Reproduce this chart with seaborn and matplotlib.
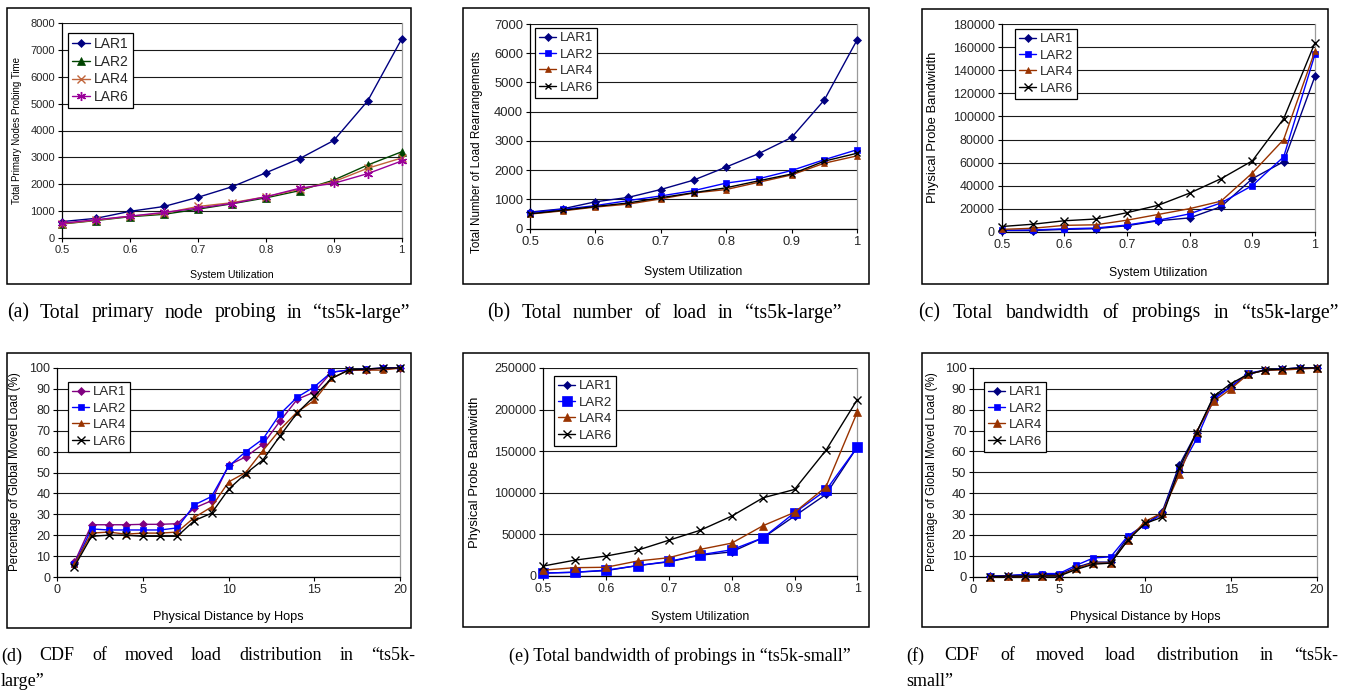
import numpy as np
import pandas as pd
import matplotlib
matplotlib.use("Agg")
import matplotlib.pyplot as plt
import seaborn as sns
from matplotlib.patches import Rectangle

# ---------------- data ----------------
series = ["LAR1", "LAR2", "LAR4", "LAR6"]
util = [0.5, 0.55, 0.6, 0.65, 0.7, 0.75, 0.8, 0.85, 0.9, 0.95, 1.0]
hops = list(range(1, 21))

# (a) Total primary nodes probing time, ts5k-large
a_lar1 = [620, 740, 1000, 1180, 1520, 1910, 2430, 2960, 3630, 5100, 7400]
a_lar2 = [530, 660, 800, 890, 1080, 1280, 1500, 1770, 2160, 2720, 3210]
a_lar4 = [540, 670, 820, 930, 1180, 1320, 1540, 1820, 2100, 2600, 2980]
a_lar6 = [560, 690, 820, 960, 1120, 1290, 1540, 1860, 2040, 2400, 2870]

# (b) Total number of load rearrangements, ts5k-large
b_lar1 = [570, 680, 920, 1070, 1340, 1660, 2110, 2570, 3120, 4400, 6450]
b_lar2 = [550, 660, 790, 960, 1120, 1300, 1560, 1710, 1990, 2360, 2700]
b_lar4 = [500, 610, 740, 840, 1020, 1220, 1340, 1590, 1840, 2240, 2490]
b_lar6 = [510, 630, 760, 880, 1060, 1230, 1400, 1640, 1870, 2310, 2580]

# (c) Physical probe bandwidth, ts5k-large
c_lar1 = [1000, 1000, 2000, 2600, 5200, 9500, 12000, 21700, 46000, 60800, 135000]
c_lar2 = [1200, 1500, 2500, 3200, 5800, 10000, 15500, 25000, 40000, 65000, 154000]
c_lar4 = [2000, 3000, 5500, 6000, 10000, 15000, 20000, 26500, 51000, 80000, 157000]
c_lar6 = [4500, 6500, 9500, 11000, 16500, 23000, 33500, 46000, 61500, 98000, 164000]

# (d) CDF of moved load, ts5k-large
d_lar1 = [7, 25, 25, 25, 25.2, 25.2, 25.5, 33, 36.5, 53.5, 57.5, 63.5, 74.6, 85, 88.5, 98, 99, 99, 100, 100]
d_lar2 = [6, 23, 22.5, 22.5, 22.5, 22.5, 23.5, 34.5, 38.5, 53, 60, 66, 78, 86, 91, 98, 99, 99.5, 100, 100]
d_lar4 = [6, 21, 21.5, 20.5, 21, 21, 21.5, 28.5, 33.5, 45.5, 50, 60.5, 70.5, 79, 84.5, 95, 99, 99, 99, 100]
d_lar6 = [5, 19.5, 20, 20, 19.5, 19.5, 19.5, 27, 30.5, 42, 49.5, 56, 67.5, 78.5, 86.5, 95, 99, 99.5, 100, 100]

# (e) Physical probe bandwidth, ts5k-small
e_lar1 = [3500, 4500, 6500, 12500, 17000, 25000, 29000, 46000, 72000, 98000, 155000]
e_lar2 = [3500, 4500, 7000, 12500, 17500, 25500, 31500, 46000, 76000, 103000, 155000]
e_lar4 = [7000, 10000, 10500, 18000, 22000, 32000, 39500, 60500, 76500, 107000, 197000]
e_lar6 = [12000, 19000, 24000, 31000, 43000, 55000, 72000, 94000, 104000, 151000, 212000]

# (f) CDF of moved load, ts5k-small
f_lar1 = [0.3, 0.5, 1, 1, 1, 4.5, 7, 7, 19, 25, 31, 53.5, 69, 86, 91, 97, 99, 99.5, 100, 100]
f_lar2 = [0.3, 0.5, 1, 1.5, 1.5, 5.5, 9, 9.5, 19.5, 25, 30, 51, 66, 85, 91, 97.5, 99, 99.5, 100, 100]
f_lar4 = [0, 0.2, 0, 0.5, 0.5, 4, 6.5, 6.5, 17.5, 26.5, 30.5, 49, 69.5, 84, 90, 97, 99, 99, 99.5, 100]
f_lar6 = [0, 0.3, 0.3, 0.3, 0.3, 3.5, 6, 6.5, 17.5, 25.5, 28.5, 52, 69, 86.5, 92.5, 97, 99, 99.5, 100, 100]

captions = [
    "(a) Total primary node probing in \u201cts5k-large\u201d",
    "(b) Total number of load in \u201cts5k-large\u201d",
    "(c) Total bandwidth of probings in \u201cts5k-large\u201d",
    "(d) CDF of moved load distribution in \u201cts5k-large\u201d",
    "(e) Total bandwidth of probings in \u201cts5k-small\u201d",
    "(f) CDF of moved load distribution in \u201cts5k-small\u201d",
]

# ---------------- style ----------------
sns.set_theme(style="white")
plt.rcParams["font.family"] = ["Liberation Sans", "DejaVu Sans"]

W, H = 1346, 694
fig = plt.figure(figsize=(W / 100, H / 100), dpi=100)

NAVY, GREEN, ORANGE, PURPLE = "#000080", "#004400", "#C0643A", "#990099"
BLUE, BROWN, BLACK, MAG = "#0000FF", "#993300", "#000000", "#800080"
STAR = (6, 2, 0)

def ax_rect(x0, x1, y0, y1):
    return [x0 / W, 1 - y1 / H, (x1 - x0) / W, (y1 - y0) / H]

panels = [
    dict(rect=ax_rect(62, 401.7, 22.7, 238.3), x=util, ys=[a_lar1, a_lar2, a_lar4, a_lar6],
         colors=[NAVY, GREEN, ORANGE, PURPLE], markers=["D", "^", "x", STAR], ms=[4.5, 5.5, 6, 6.5],
         yticks=np.arange(0, 8001, 1000), xticks=[0.5, 0.6, 0.7, 0.8, 0.9, 1.0], xlim=(0.5, 1.0),
         ylabel="Total Primary Nodes Probing Time", ylfs=7.0, ylx=17, yly=130, xlabel="System Utilization",
         xlfs=7.6, xly=275, tfs=8.0, leg=(68, 33), lfs=10, lsp=0.26, frame=(7, 411, 8, 284)),
    dict(rect=ax_rect(530, 857, 24, 228.7), x=util, ys=[b_lar1, b_lar2, b_lar4, b_lar6],
         colors=[NAVY, BLUE, BROWN, BLACK], markers=["D", "s", "^", "x"], ms=[4.5, 4.5, 4, 4],
         yticks=np.arange(0, 7001, 1000), xticks=[0.5, 0.6, 0.7, 0.8, 0.9, 1.0], xlim=(0.5, 1.0),
         ylabel="Total Number of Load Rearrangements", ylfs=8.4, ylx=477, yly=152, xlabel="System Utilization",
         xlfs=8.8, xly=272, tfs=9.4, leg=(535, 28), lfs=9.5, lsp=0.32, frame=(463, 869, 8, 284)),
    dict(rect=ax_rect(1001.7, 1315, 24.3, 231.7), x=util, ys=[c_lar1, c_lar2, c_lar4, c_lar6],
         colors=[NAVY, BLUE, BROWN, BLACK], markers=["D", "s", "^", "x"], ms=[4.5, 4.5, 5, 6],
         yticks=np.arange(0, 180001, 20000), xticks=[0.5, 0.6, 0.7, 0.8, 0.9, 1.0], xlim=(0.5, 1.0),
         ylabel="Physical Probe Bandwidth", ylfs=9.4, ylx=933, yly=127, xlabel="System Utilization",
         xlfs=8.8, xly=273, tfs=9.0, leg=(1015, 29), lfs=9.5, lsp=0.32, frame=(922, 1328, 9, 284)),
    dict(rect=ax_rect(57.3, 400, 368, 577), x=hops, ys=[d_lar1, d_lar2, d_lar4, d_lar6],
         colors=[MAG, BLUE, BROWN, BLACK], markers=["D", "s", "^", "x"], ms=[4.5, 4.5, 5, 6],
         yticks=np.arange(0, 101, 10), xticks=[0, 5, 10, 15, 20], xlim=(0, 20),
         ylabel="Percentage of Global Moved Load (%)", ylfs=8.4, ylx=15, yly=472, xlabel="Physical Distance by Hops",
         xlfs=9.2, xly=617, tfs=9.0, leg=(68, 382), lfs=9.5, lsp=0.32, frame=(7, 411, 353, 628)),
    dict(rect=ax_rect(543.3, 857.3, 368, 576), x=util, ys=[e_lar1, e_lar2, e_lar4, e_lar6],
         colors=[NAVY, BLUE, BROWN, BLACK], markers=["D", "s", "^", "x"], ms=[4.5, 6.5, 6, 6],
         yticks=np.arange(0, 250001, 50000), xticks=[0.5, 0.6, 0.7, 0.8, 0.9, 1.0], xlim=(0.5, 1.0),
         ylabel="Physical Probe Bandwidth", ylfs=9.4, ylx=475, yly=472, xlabel="System Utilization",
         xlfs=8.8, xly=617, tfs=9.0, leg=(554, 376), lfs=9.5, lsp=0.32, frame=(463, 869, 353, 627)),
    dict(rect=ax_rect(973.3, 1316.7, 368, 576.7), x=hops, ys=[f_lar1, f_lar2, f_lar4, f_lar6],
         colors=[NAVY, BLUE, BROWN, BLACK], markers=["D", "s", "^", "x"], ms=[4.5, 5, 6, 6],
         yticks=np.arange(0, 101, 10), xticks=[0, 5, 10, 15, 20], xlim=(0, 20),
         ylabel="Percentage of Global Moved Load (%)", ylfs=8.4, ylx=932, yly=472, xlabel="Physical Distance by Hops",
         xlfs=9.2, xly=617, tfs=9.4, leg=(984, 382), lfs=9.5, lsp=0.32, frame=(922, 1328, 353, 627)),
]

for p in panels:
    ax = fig.add_axes(p["rect"])
    for name, yv, c, m, ms in zip(series, p["ys"], p["colors"], p["markers"], p["ms"]):
        df = pd.DataFrame({"x": p["x"], "y": yv})
        sns.lineplot(data=df, x="x", y="y", ax=ax, color=c, marker=m, markersize=ms,
                     markeredgecolor=c, markerfacecolor=c,
                     markeredgewidth=1.0 if m in ("x", STAR) else 0.5,
                     linewidth=1.0, label=name, clip_on=False, zorder=3, estimator=None)
    ax.set_xlim(*p["xlim"])
    ax.set_ylim(p["yticks"][0], p["yticks"][-1])
    ax.set_yticks(p["yticks"])
    ax.set_xticks(p["xticks"])
    ax.set_xticklabels([f"{v:g}" for v in p["xticks"]])
    ax.set_yticklabels([f"{int(v)}" for v in p["yticks"]])
    ax.yaxis.grid(True, color="#1a1a1a", linewidth=0.8)
    ax.xaxis.grid(False)
    ax.set_axisbelow(True)
    for s in ("left", "bottom"):
        ax.spines[s].set_color("black")
        ax.spines[s].set_linewidth(0.9)
    ax.spines["top"].set_visible(False)
    ax.spines["right"].set_color("#9a9a9a")
    ax.spines["right"].set_linewidth(0.9)
    ax.tick_params(axis="both", which="major", direction="out", length=3, width=0.8,
                   color="black", labelsize=p["tfs"], pad=2, left=True, bottom=True)
    ax.set_xlabel("")
    ax.set_ylabel("")
    fig.text(p["ylx"] / W, 1 - p["yly"] / H, p["ylabel"], rotation=90, ha="center", va="center",
             fontsize=p["ylfs"], color="black")
    cx = p["rect"][0] + p["rect"][2] / 2
    fig.text(cx, 1 - p["xly"] / H, p["xlabel"], ha="center", va="center",
             fontsize=p["xlfs"], color="black")
    ax.legend(loc="upper left", bbox_to_anchor=(p["leg"][0] / W, 1 - p["leg"][1] / H),
              bbox_transform=fig.transFigure, frameon=True, fancybox=False, framealpha=1,
              edgecolor="black", borderpad=0.3, labelspacing=p["lsp"], handlelength=1.3,
              handletextpad=0.25, borderaxespad=0, fontsize=p["lfs"])
    ax.get_legend().get_frame().set_linewidth(0.9)
    fx0, fx1, fy0, fy1 = p["frame"]
    fig.patches.append(Rectangle((fx0 / W, 1 - fy1 / H), (fx1 - fx0) / W, (fy1 - fy0) / H,
                                 transform=fig.transFigure, fill=False, edgecolor="black",
                                 linewidth=1.1))

# ---------------- captions ----------------
SERIF = ["Liberation Serif", "DejaVu Serif"]
CAP = dict(family=SERIF, fontsize=13.0, color="black")
CAP1 = dict(family=SERIF, fontsize=14.2, color="black")

fig.canvas.draw()
renderer = fig.canvas.get_renderer()

def justify(words, x0, x1, y, style):
    objs = [fig.text(0, 1 - y / H, w, ha="left", va="center", **style) for w in words]
    widths = [o.get_window_extent(renderer).width for o in objs]
    gap = (x1 - x0 - sum(widths)) / (len(words) - 1)
    x = x0
    for o, wd in zip(objs, widths):
        o.set_x(x / W)
        x += wd + gap

def two_line(caption, split_at, x0, x1, y1, y2):
    first, second = caption[:split_at], caption[split_at:]
    justify(first.split(" "), x0, x1, y1, CAP)
    fig.text(x0 / W, 1 - y2 / H, second, ha="left", va="center", **CAP)

justify(captions[0].split(" "), 7, 410, 313, CAP1)
justify(captions[1].split(" "), 487, 841, 313, CAP1)
justify(captions[2].split(" "), 918, 1338, 313, CAP1)
fig.text(680 / W, 1 - 656 / H, captions[4], ha="center", va="center", **CAP)

cap_d = captions[3]
two_line(cap_d, cap_d.index("ts5k-") + 5, 1, 415, 656, 682)
cap_f = captions[5]
two_line(cap_f, cap_f.index("ts5k-") + 5, 906, 1338, 656, 682)

fig.savefig("out.png", dpi=100)
